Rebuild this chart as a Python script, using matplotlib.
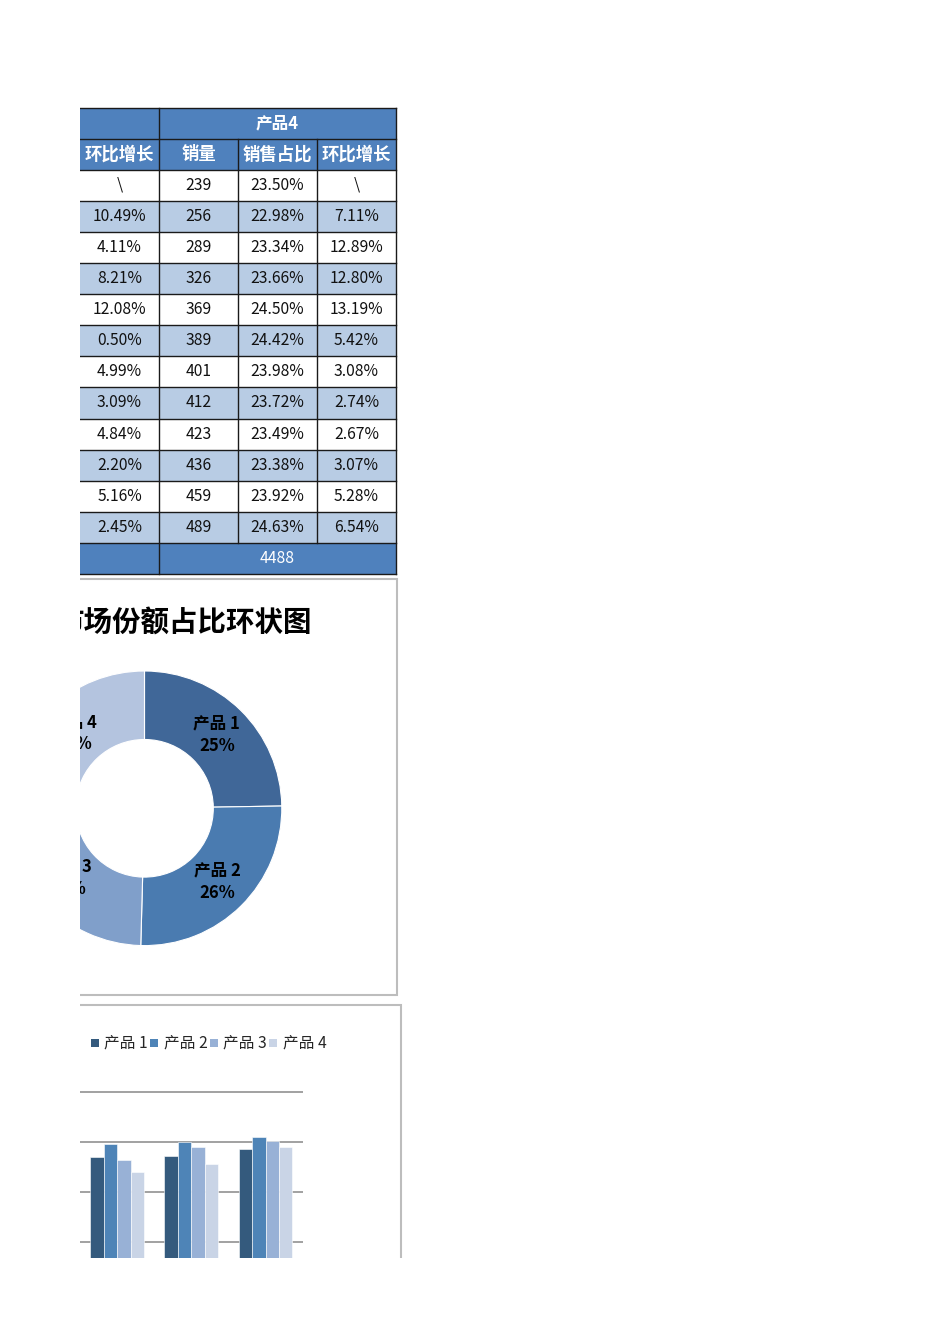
import math
import matplotlib
matplotlib.use('Agg')
import matplotlib.pyplot as plt
from matplotlib.patches import Rectangle

plt.rcParams['font.family'] = ['Noto Sans CJK SC', 'DejaVu Sans']

# ---------------- data ----------------
table_group = "产品4"
table_headers = ["环比增长", "销量", "销售占比", "环比增长"]
p3_growth = ["\\", "10.49%", "4.11%", "8.21%", "12.08%", "0.50%", "4.99%",
             "3.09%", "4.84%", "2.20%", "5.16%", "2.45%"]
p4_sales = [239, 256, 289, 326, 369, 389, 401, 412, 423, 436, 459, 489]
p4_share = ["23.50%", "22.98%", "23.34%", "23.66%", "24.50%", "24.42%",
            "23.98%", "23.72%", "23.49%", "23.38%", "23.92%", "24.63%"]
p4_growth = ["\\", "7.11%", "12.89%", "12.80%", "13.19%", "5.42%", "3.08%",
             "2.74%", "2.67%", "3.07%", "5.28%", "6.54%"]

donut_title = "市场份额占比环状图"
donut_labels = ["产品 1", "产品 2", "产品 3", "产品 4"]
donut_values = [4620, 4800, 4770, 4488]

bar_categories = ["1月", "2月", "3月"]
bar_p1 = [269, 272, 285]
bar_p2 = [295, 299, 309]
bar_p3 = [264, 289, 301]
bar_p4 = [239, 256, 289]
legend_labels = ["产品 1", "产品 2", "产品 3", "产品 4"]

# ---------------- styles ----------------
W, H = 950, 1344
HDR = '#4f81bd'
ALT = '#b8cce4'
LINE = '#1a1a1a'
DONUT_COLORS = ['#406798', '#4a7bb0', '#809fca', '#b4c4df']
BAR_COLORS = ['#345a7d', '#4e84b7', '#98b1d6', '#c9d4e6']
BOX = '#bdbdbd'

fig = plt.figure(figsize=(W / 100, H / 100), dpi=100)


def fbox(x0, y0, x1, y1):
    return [x0 / W, 1 - y1 / H, (x1 - x0) / W, (y1 - y0) / H]


# page axes (pixel coordinates, clipped to printable area)
page = fig.add_axes(fbox(80, 0, 950, 1258))
page.set_xlim(80, 950)
page.set_ylim(1258, 0)
page.axis('off')

# ---------------- table ----------------
cols = [80, 159, 238, 317, 396]
centers = [(cols[i] + cols[i + 1]) / 2 for i in range(4)]
top = 107.5
rh = 31.1
nrows = len(p4_sales)

# header row 1
page.add_patch(Rectangle((0, top), 159, rh, fc=HDR, ec='none'))
page.add_patch(Rectangle((159, top), 237, rh, fc=HDR, ec='none'))
page.text((159 + 396) / 2, top + rh / 2, table_group, ha='center', va='center',
          color='white', fontsize=12, fontweight='bold', clip_on=True)
# header row 2
page.add_patch(Rectangle((0, top + rh), 396, rh, fc=HDR, ec='none'))
for c, t in zip(centers, table_headers):
    page.text(c, top + 1.5 * rh, t, ha='center', va='center', color='white',
              fontsize=12.5, fontweight='bold', clip_on=True)
# data rows
for i in range(nrows):
    y0 = top + (2 + i) * rh
    fc = ALT if i % 2 == 1 else 'white'
    page.add_patch(Rectangle((0, y0), 396, rh, fc=fc, ec='none'))
    vals = [p3_growth[i], str(p4_sales[i]), p4_share[i], p4_growth[i]]
    for c, t in zip(centers, vals):
        page.text(c, y0 + rh / 2, t, ha='center', va='center', color='#111111',
                  fontsize=11.3, clip_on=True)
# total row
yt = top + (2 + nrows) * rh
page.add_patch(Rectangle((0, yt), 396, rh, fc=HDR, ec='none'))
page.text((159 + 396) / 2, yt + rh / 2, str(sum(p4_sales)), ha='center',
          va='center', color='white', fontsize=11.3, clip_on=True)
# grid lines
for k in range(nrows + 4):
    y = top + k * rh
    page.plot([0, 396], [y, y], color=LINE, lw=1.0)
ybot = top + (nrows + 3) * rh
for x in (159, 396):
    page.plot([x, x], [top, ybot], color=LINE, lw=1.0)
for x in (238, 317):
    page.plot([x, x], [top + rh, yt], color=LINE, lw=1.0)

# ---------------- donut chart ----------------
page.add_patch(Rectangle((0, 578.5), 397, 416.5, fc='none', ec=BOX, lw=1.5))
page.text(312, 623, donut_title, ha='right', va='center', fontsize=20.5,
          fontweight='bold', color='black', clip_on=True)

dax = fig.add_axes(fbox(80, 578, 397, 995))
cx, cy = 144.5, H - 808.3
R, RW = 137.3, 68.5
wedges, _ = dax.pie(donut_values, colors=DONUT_COLORS, startangle=90,
                    counterclock=False, radius=R, center=(cx, cy), frame=True,
                    wedgeprops=dict(width=RW, edgecolor='white', linewidth=0.8,
                                    clip_on=True))
for w in wedges:
    w.set_clip_on(True)
    w.set_clip_box(dax.bbox)
dax.set_xlim(80, 397)
dax.set_ylim(H - 995, H - 578)
dax.set_aspect('auto')
dax.axis('off')
tot = sum(donut_values)
for w, lab, v in zip(wedges, donut_labels, donut_values):
    ang = math.radians((w.theta1 + w.theta2) / 2)
    r = R - RW / 2
    dax.text(cx + r * math.cos(ang), cy + r * math.sin(ang),
             f"{lab}\n{v / tot * 100:.0f}%", ha='center', va='center',
             fontsize=12, fontweight='bold', color='black',
             linespacing=1.3, clip_on=True)

# ---------------- bar chart ----------------
page.add_patch(Rectangle((0, 1004.5), 400.5, 400, fc='none', ec=BOX, lw=1.5))

lx0 = 90.7
for k, (lab, col) in enumerate(zip(legend_labels, BAR_COLORS)):
    x0 = lx0 + 59.5 * k
    page.add_patch(Rectangle((x0, 1038.5), 8, 8, fc=col, ec='none'))
    page.text(x0 + 13.5, 1043.5, lab, ha='left', va='center', fontsize=11.3,
              color='#262626', clip_on=True)

bax = fig.add_axes(fbox(80, 1091.2, 302.7, 1258))
bw = 0.181
series = [bar_p1, bar_p2, bar_p3, bar_p4]
xs = list(range(len(bar_categories)))
for k, (vals, col) in enumerate(zip(series, BAR_COLORS)):
    bax.bar([x + (k - 1.5) * bw for x in xs], vals, width=bw, color=col,
            edgecolor='white', linewidth=0.4, zorder=3)
bax.set_xlim(-0.5, 2.5)
bax.set_ylim(67.4, 401)
bax.set_yticks([100, 200, 300, 400])
bax.set_xticks(xs)
bax.set_xticklabels(bar_categories)
bax.yaxis.grid(True, color='#9a9a9a', lw=1.3, zorder=0)
bax.set_axisbelow(True)
bax.tick_params(bottom=False, left=False, labelbottom=False, labelleft=False)
for s in bax.spines.values():
    s.set_visible(False)
bax.patch.set_alpha(0)

fig.savefig('out.png', dpi=100)
